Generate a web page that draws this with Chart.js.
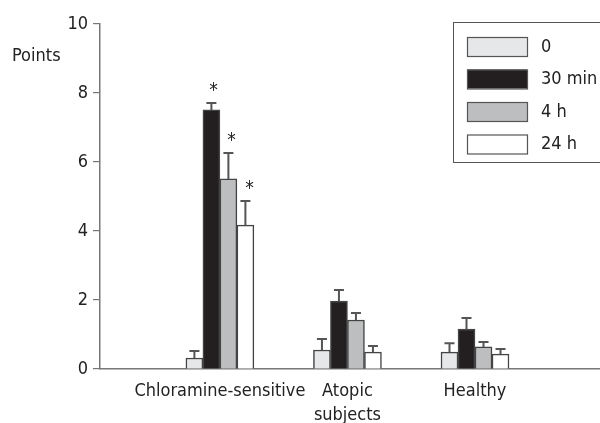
<!DOCTYPE html>
<html lang="en">
<head>
  <meta charset="UTF-8">
  <title>Points by group</title>
  <script src="https://cdn.jsdelivr.net/npm/chart.js"></script>
  <style>
    body { margin: 0; background: #fff; }
    #wrap { position: relative; width: 600px; height: 423px; }
  </style>
</head>
<body>
  <div id="wrap"><canvas id="chart"></canvas></div>
  <script>
    const FONT = "'Liberation Sans Narrow', 'DejaVu Sans Condensed', 'Liberation Sans', sans-serif";

    const groups = ['Chloramine-sensitive', ['Atopic', 'subjects'], 'Healthy'];
    const groupPos = [1, 2, 3];
    const seriesNames = ['0', '30 min', '4 h', '24 h'];
    const seriesColors = ['#e6e7e8', '#231f20', '#bcbec0', '#ffffff'];

    const values0 = [0.32, 0.55, 0.49];
    const values30 = [7.51, 1.97, 1.16];
    const values4h = [5.51, 1.42, 0.64];
    const values24h = [4.17, 0.49, 0.43];

    // upper error (SEM) read from the whiskers
    const err0 = [0.20, 0.32, 0.26];
    const err30 = [0.20, 0.32, 0.32];
    const err4h = [0.75, 0.20, 0.14];
    const err24h = [0.70, 0.18, 0.15];

    // asterisks (significant)
    const sig0 = [false, false, false];
    const sig30 = [true, false, false];
    const sig4h = [true, false, false];
    const sig24h = [true, false, false];

    const yTicks = [0, 2, 4, 6, 8, 10];

    const allValues = [values0, values30, values4h, values24h];
    const allErr = [err0, err30, err4h, err24h];
    const allSig = [sig0, sig30, sig4h, sig24h];

    const extras = {
      id: 'extras',
      afterDatasetsDraw(chart) {
        const c = chart.ctx;
        const y = chart.scales.y;
        c.save();
        chart.data.datasets.forEach((ds, i) => {
          const meta = chart.getDatasetMeta(i);
          meta.data.forEach((bar, j) => {
            const v = allValues[i][j];
            const top = y.getPixelForValue(v + allErr[i][j]);
            c.strokeStyle = '#555';
            c.lineWidth = 2;
            c.beginPath();
            c.moveTo(bar.x, bar.y);
            c.lineTo(bar.x, top);
            c.moveTo(bar.x - 5, top);
            c.lineTo(bar.x + 5, top);
            c.stroke();
            if (allSig[i][j]) {
              c.fillStyle = '#222';
              c.font = '19px ' + FONT;
              c.textAlign = 'center';
              c.textBaseline = 'middle';
              c.fillText('*', bar.x + 1 + i, top - 12);
            }
          });
        });
        c.restore();
      },
      afterDraw(chart) {
        const c = chart.ctx;
        c.save();
        // y axis caption
        c.fillStyle = '#222';
        c.font = '18px ' + FONT;
        c.textAlign = 'left';
        c.textBaseline = 'middle';
        c.fillText('Points', 12, 56);
        // legend box
        c.fillStyle = '#fff';
        c.fillRect(453, 22, 160, 140);
        c.strokeStyle = '#555';
        c.lineWidth = 1;
        c.strokeRect(453.5, 22.5, 160, 140);
        chart.data.datasets.forEach((ds, i) => {
          const cy = 47 + i * 32.5;
          c.fillStyle = ds.backgroundColor;
          c.fillRect(467, cy - 10, 60, 19);
          c.strokeStyle = '#555';
          c.lineWidth = 1.2;
          c.strokeRect(467.5, cy - 9.5, 60, 19);
          c.fillStyle = '#222';
          c.font = '18px ' + FONT;
          c.textAlign = 'left';
          c.textBaseline = 'middle';
          c.fillText(ds.label, 541, cy);
        });
        c.restore();
      }
    };

    new Chart(document.getElementById('chart'), {
      type: 'bar',
      data: {
        datasets: seriesNames.map((name, i) => ({
          label: name,
          data: groupPos.map((p, j) => ({ x: p, y: allValues[i][j] })),
          backgroundColor: seriesColors[i],
          borderColor: '#444',
          borderWidth: 1.5,
          barThickness: 17
        }))
      },
      options: {
        responsive: true,
        maintainAspectRatio: false,
        animation: false,
        layout: { padding: { top: 24, right: 0, left: 0, bottom: 0 } },
        plugins: { legend: { display: false }, tooltip: { enabled: false } },
        scales: {
          x: {
            type: 'linear',
            min: 0.06,
            max: 3.98,
            offset: false,
            grid: { display: false, offset: false },
            border: { display: true, color: '#777', width: 1.5 },
            afterBuildTicks(scale) { scale.ticks = groupPos.map(v => ({ value: v })); },
            ticks: {
              color: '#222',
              padding: 2,
              maxRotation: 0,
              autoSkip: false,
              font: { family: FONT, size: 18, lineHeight: 1.35 },
              callback: (v) => groups[groupPos.indexOf(v)]
            },
            afterFit(scale) {
              scale.height = 54;
              scale.paddingLeft = 0;
              scale.paddingRight = 0;
            }
          },
          y: {
            min: 0,
            max: 10,
            afterBuildTicks(scale) { scale.ticks = yTicks.map(v => ({ value: v })); },
            grid: { drawOnChartArea: false, drawTicks: true, tickLength: 7, color: '#777', lineWidth: 1.2 },
            border: { display: true, color: '#777', width: 1.5 },
            ticks: {
              color: '#222',
              padding: 5,
              font: { family: FONT, size: 18 }
            },
            afterFit(scale) { scale.width = 100; }
          }
        }
      },
      plugins: [extras]
    });
  </script>
</body>
</html>
